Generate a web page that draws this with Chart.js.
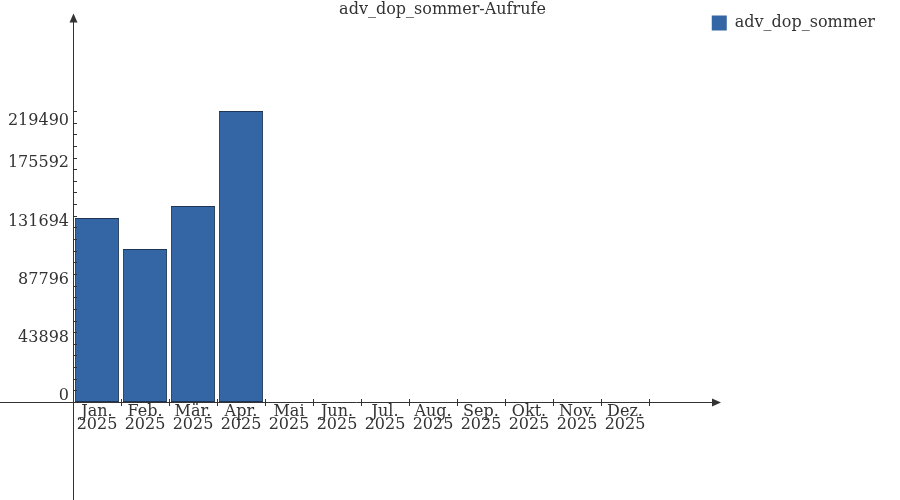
<!DOCTYPE html>
<html>
<head>
<meta charset="utf-8">
<script src="https://cdn.jsdelivr.net/npm/chart.js@4/dist/chart.umd.min.js"></script>
<style>
  html, body { margin: 0; padding: 0; background: #ffffff; }
  #wrap { width: 900px; height: 500px; position: relative; }
</style>
</head>
<body>
<div id="wrap"><canvas id="c" width="900" height="500"></canvas></div>
<script>
// ---- data ----
const chartTitle = "adv_dop_sommer-Aufrufe";
const seriesName = "adv_dop_sommer";
const months = ["Jan.", "Feb.", "Mär.", "Apr.", "Mai", "Jun.", "Jul.", "Aug.", "Sep.", "Okt.", "Nov.", "Dez."];
const year = "2025";
const calls = [138800, 115400, 147850, 219490, 0, 0, 0, 0, 0, 0, 0, 0];
const yTicks = [0, 43898, 87796, 131694, 175592, 219490];
const yMinorSteps = 5;

// ---- style ----
const FONT = "'DejaVu Serif', 'Liberation Serif', serif";
const TEXT = "#333333";
const AXIS = "#333333";
const FILL = "#3465a4";
const EDGE = "#1e3656";
const Y_MAX = 272289;

const labels = months.map(m => [m, year]);

const axesPlugin = {
  id: "axesPlugin",
  beforeDraw(chart) {
    const ys = chart.scales.y;
    const items = ys.getLabelItems();
    if (items && items.length) {
      const last = items[items.length - 1];
      last.options.translation[1] += 16;
    }
  },
  afterDatasetsDraw(chart) {
    const {ctx, chartArea} = chart;
    const xs = chart.scales.x, ys = chart.scales.y;
    const x0 = chartArea.left, y0 = ys.getPixelForValue(0);
    ctx.save();
    ctx.strokeStyle = AXIS;
    ctx.fillStyle = AXIS;
    ctx.lineWidth = 1;
    // y axis
    ctx.beginPath();
    ctx.moveTo(x0 + 0.5, 21);
    ctx.lineTo(x0 + 0.5, 500);
    ctx.stroke();
    ctx.beginPath();
    ctx.moveTo(x0 + 0.5, 13.5);
    ctx.lineTo(x0 - 3.5, 22.5);
    ctx.lineTo(x0 + 4.5, 22.5);
    ctx.closePath();
    ctx.fill();
    // x axis
    ctx.beginPath();
    ctx.moveTo(0, Math.round(y0) + 0.5);
    ctx.lineTo(713, Math.round(y0) + 0.5);
    ctx.stroke();
    ctx.beginPath();
    ctx.moveTo(721, Math.round(y0) + 0.5);
    ctx.lineTo(712, Math.round(y0) - 3.5);
    ctx.lineTo(712, Math.round(y0) + 4.5);
    ctx.closePath();
    ctx.fill();
    // y ticks (major + minor)
    const step = (yTicks[1] - yTicks[0]) / yMinorSteps;
    const top = yTicks[yTicks.length - 1];
    ctx.beginPath();
    for (let v = 0; v <= top + 1; v += step) {
      const py = Math.round(ys.getPixelForValue(v)) + 0.5;
      ctx.moveTo(x0, py);
      ctx.lineTo(x0 + 4, py);
    }
    ctx.stroke();
    // x ticks at category boundaries
    const cw = xs.getPixelForValue(1) - xs.getPixelForValue(0);
    ctx.beginPath();
    for (let i = 1; i <= months.length; i++) {
      const px = Math.round(xs.getPixelForValue(i - 1) + cw / 2) + 0.5;
      ctx.moveTo(px, Math.round(y0) - 3);
      ctx.lineTo(px, Math.round(y0) + 4);
    }
    ctx.stroke();
    ctx.restore();
  }
};

new Chart(document.getElementById("c"), {
  type: "bar",
  data: {
    labels: labels,
    datasets: [{
      label: seriesName,
      data: calls,
      backgroundColor: FILL,
      borderColor: EDGE,
      borderWidth: 1,
      borderSkipped: false,
      barPercentage: 0.92,
      categoryPercentage: 1.0
    }]
  },
  options: {
    responsive: false,
    animation: false,
    devicePixelRatio: 1,
    layout: { padding: { top: 0, right: 15, bottom: 0, left: 0 } },
    plugins: {
      title: {
        display: true,
        text: chartTitle,
        color: TEXT,
        font: { family: FONT, size: 16, weight: "normal", lineHeight: 1.0 },
        padding: { top: 2, bottom: -13 }
      },
      legend: {
        display: true,
        position: "top",
        align: "end",
        labels: {
          color: TEXT,
          font: { family: FONT, size: 16 },
          boxWidth: 15,
          boxHeight: 15,
          padding: 10,
          generateLabels(chart) {
            const items = Chart.defaults.plugins.legend.labels.generateLabels(chart);
            items.forEach(it => { it.lineWidth = 0; it.strokeStyle = FILL; });
            return items;
          }
        }
      },
      tooltip: { enabled: false }
    },
    scales: {
      x: {
        type: "category",
        grid: { display: false, drawTicks: false },
        border: { display: false },
        ticks: {
          color: TEXT,
          font: { family: FONT, size: 16, lineHeight: 0.8125 },
          padding: 3,
          maxRotation: 0,
          minRotation: 0,
          autoSkip: false
        },
        afterFit(scale) { scale.height = 98; }
      },
      y: {
        type: "linear",
        position: "left",
        min: 0,
        max: Y_MAX,
        grid: { display: false, drawTicks: false },
        border: { display: false },
        afterBuildTicks(scale) { scale.ticks = yTicks.map(v => ({ value: v })); },
        ticks: {
          color: TEXT,
          font: { family: FONT, size: 16 },
          padding: 4,
          labelOffset: -6,
          callback: (v) => String(v)
        },
        afterFit(scale) { scale.width = 73; }
      },
      yR: {
        type: "linear",
        position: "right",
        display: true,
        grid: { display: false, drawTicks: false },
        border: { display: false },
        ticks: { display: false },
        afterFit(scale) { scale.width = 236; }
      }
    }
  },
  plugins: [axesPlugin]
});
</script>
</body>
</html>
